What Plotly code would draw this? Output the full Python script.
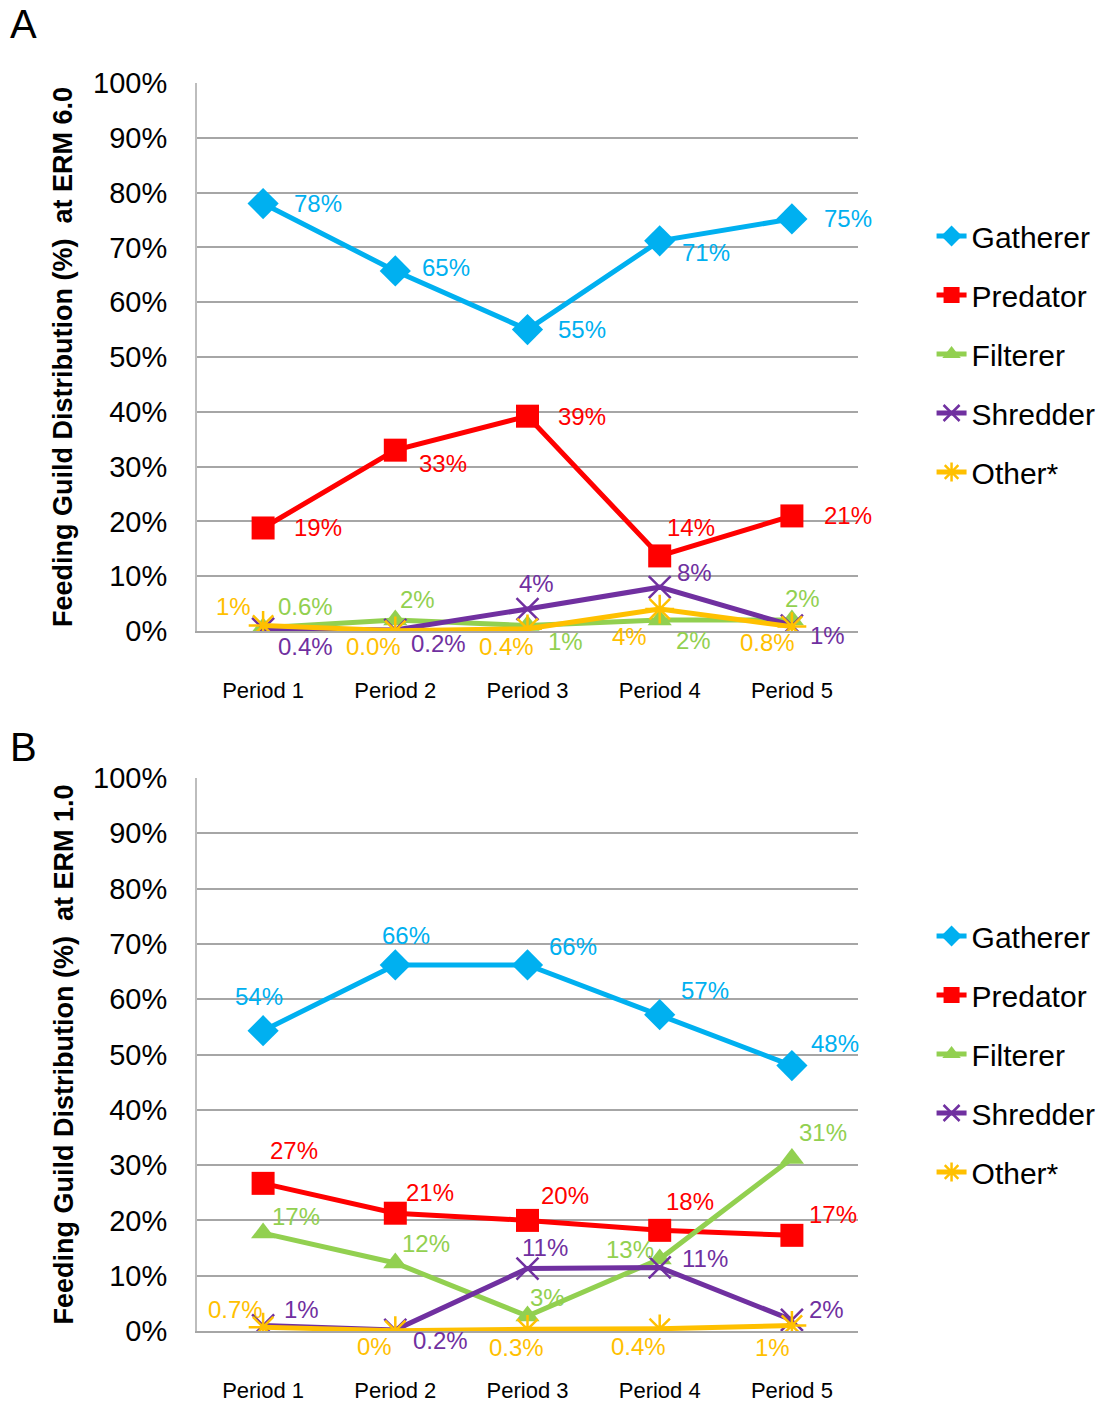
import plotly.graph_objects as go
from plotly.subplots import make_subplots

# ---------------- data ----------------
periods = ["Period 1", "Period 2", "Period 3", "Period 4", "Period 5"]
series_names = ["Gatherer", "Predator", "Filterer", "Shredder", "Other*"]

# Panel A (ERM 6.0)
a_gatherer = [78, 65.7, 55, 71.2, 75.2]
a_predator = [18.8, 33, 39.2, 13.7, 21]
a_filterer = [0.6, 2, 1, 2, 2]
a_shredder = [0.4, 0.2, 4, 8, 1]
a_other = [1, 0.04, 0.4, 4, 0.8]

a_gatherer_lbl = ["78%", "65%", "55%", "71%", "75%"]
a_predator_lbl = ["19%", "33%", "39%", "14%", "21%"]
a_filterer_lbl = ["0.6%", "2%", "1%", "2%", "2%"]
a_shredder_lbl = ["0.4%", "0.2%", "4%", "8%", "1%"]
a_other_lbl = ["1%", "0.0%", "0.4%", "4%", "0.8%"]

# Panel B (ERM 1.0)
b_gatherer = [54.3, 66.2, 66.2, 57.2, 48]
b_predator = [26.7, 21.3, 20, 18.2, 17.3]
b_filterer = [17.7, 12.3, 2.7, 13, 31.2]
b_shredder = [1, 0.2, 11.3, 11.5, 2]
b_other = [0.7, 0.05, 0.3, 0.4, 1]

b_gatherer_lbl = ["54%", "66%", "66%", "57%", "48%"]
b_predator_lbl = ["27%", "21%", "20%", "18%", "17%"]
b_filterer_lbl = ["17%", "12%", "3%", "13%", "31%"]
b_shredder_lbl = ["1%", "0.2%", "11%", "11%", "2%"]
b_other_lbl = ["0.7%", "0%", "0.3%", "0.4%", "1%"]

y_ticks = [0, 10, 20, 30, 40, 50, 60, 70, 80, 90, 100]
y_tick_text = ["0%", "10%", "20%", "30%", "40%", "50%", "60%", "70%", "80%", "90%", "100%"]
y_titles = ["<b>Feeding Guild Distribution (%)\u00a0\u00a0at ERM 6.0</b>",
            "<b>Feeding Guild Distribution (%)\u00a0\u00a0at ERM 1.0</b>"]
panel_letters = ["A", "B"]

# ---------------- styles ----------------
colors = ["#00B0F0", "#FF0000", "#92D050", "#7030A0", "#FFC000"]
symbols = ["diamond", "square", "triangle-up", "x-thin-open", "asterisk-open"]
msizes = [24, 23, 21, 22, 24]
FONT = "Liberation Sans, Arial, sans-serif"

# label offsets (px) relative to each point: (dx, dy up)
a_offsets = [
    [(55, 0), (51, 3), (54, 0), (46, -12), (56, 0)],
    [(55, 0), (48, -13), (54, 0), (31, 28), (56, 0)],
    [(42, 21), (22, 21), (38, -16), (34, -20), (11, 22)],
    [(42, -18), (43, -14), (9, 26), (35, 15), (36, -10)],
    [(-30, 19), (-22, -16), (-21, -18), (-30, -27), (-24, -16)],
]
b_offsets = [
    [(-4, 34), (11, 29), (45, 18), (45, 24), (43, 22)],
    [(31, 33), (35, 21), (37, 25), (30, 29), (41, 21)],
    [(33, 17), (31, 19), (20, 19), (-30, 10), (31, 26)],
    [(38, 16), (45, -11), (17, 21), (45, 9), (35, 10)],
    [(-28, 18), (-21, -16), (-11, -18), (-21, -18), (-19, -22)],
]

W, H = 1109, 1406
PL, PR = 197, 858
top_px, bottom_px = 83, 1331
plot_h = bottom_px - top_px
plot_w = PR - PL
panel_px = [(83, 631), (778, 1331)]
letter_px = [(8, 0), (8, 723)]
title_x_px = 63


def dom(y_top, y_bot):
    return [(bottom_px - y_bot) / plot_h, (bottom_px - y_top) / plot_h]


a_vals = [a_gatherer, a_predator, a_filterer, a_shredder, a_other]
a_lbls = [a_gatherer_lbl, a_predator_lbl, a_filterer_lbl, a_shredder_lbl, a_other_lbl]
b_vals = [b_gatherer, b_predator, b_filterer, b_shredder, b_other]
b_lbls = [b_gatherer_lbl, b_predator_lbl, b_filterer_lbl, b_shredder_lbl, b_other_lbl]

fig = make_subplots(rows=2, cols=1)

annotations = []
for panel, (vals, lbls, offs, legend_name, xr, yr) in enumerate([
    (a_vals, a_lbls, a_offsets, "legend", "x", "y"),
    (b_vals, b_lbls, b_offsets, "legend2", "x2", "y2"),
]):
    for i, name in enumerate(series_names):
        line_marker = dict(width=2.5 if i >= 3 else 0, color=colors[i])
        fig.add_trace(
            go.Scatter(
                x=periods, y=vals[i], name=name, mode="lines+markers",
                line=dict(color=colors[i], width=5),
                marker=dict(symbol=symbols[i], size=msizes[i], color=colors[i], line=line_marker),
                legend=legend_name, legendgroup=f"{panel}-{i}",
                hoverinfo="skip",
            ),
            row=panel + 1, col=1,
        )
        for j in range(len(periods)):
            dx, dy = offs[i][j]
            annotations.append(dict(
                x=periods[j], y=vals[i][j], xref=xr, yref=yr, text=lbls[i][j],
                showarrow=False, xshift=dx, yshift=dy,
                font=dict(family=FONT, size=24, color=colors[i]),
            ))

for k, letter in enumerate(panel_letters):
    lx, ly = letter_px[k]
    annotations.append(dict(
        text=letter, x=(lx - PL) / plot_w, y=(bottom_px - ly) / plot_h,
        xref="paper", yref="paper", xanchor="left", yanchor="top", showarrow=False,
        font=dict(family=FONT, size=40, color="black"),
    ))
    yt, yb = panel_px[k]
    annotations.append(dict(
        text=y_titles[k], x=(title_x_px - PL) / plot_w, y=(bottom_px - (yt + yb) / 2) / plot_h,
        xref="paper", yref="paper", xanchor="center", yanchor="middle", showarrow=False,
        textangle=-90, font=dict(family=FONT, size=27, color="black"),
    ))

legend_style = dict(xref="container", yref="container", xanchor="left", yanchor="top",
                    font=dict(family=FONT, size=30, color="black"),
                    tracegroupgap=17, bgcolor="rgba(0,0,0,0)", itemclick=False)

fig.update_layout(
    width=W, height=H,
    margin=dict(l=PL, r=W - PR, t=top_px, b=H - bottom_px, autoexpand=False),
    paper_bgcolor="white", plot_bgcolor="white",
    font=dict(family=FONT, color="black"),
    annotations=annotations,
    legend=dict(x=0.84, y=1 - 210 / H, **legend_style),
    legend2=dict(x=0.84, y=1 - 910 / H, **legend_style),
)

grid = "#A6A6A6"
for r in [1, 2]:
    yt, yb = panel_px[r - 1]
    fig.update_yaxes(
        row=r, col=1, domain=dom(yt, yb), range=[0, 100], tickvals=y_ticks, ticktext=y_tick_text,
        showgrid=True, gridcolor=grid, gridwidth=2, showline=True, linecolor="#BDBDBD", linewidth=2,
        zeroline=False, ticks="", tickfont=dict(family=FONT, size=29, color="black"),
        ticklabelstandoff=22, automargin=False,
    )
    fig.update_xaxes(
        row=r, col=1, showgrid=False, showline=True, linecolor=grid, linewidth=2, ticks="",
        tickfont=dict(family=FONT, size=22, color="black"), ticklabelstandoff=39,
        range=[-0.5, 4.5], automargin=False,
    )

fig.write_html("out.html")
